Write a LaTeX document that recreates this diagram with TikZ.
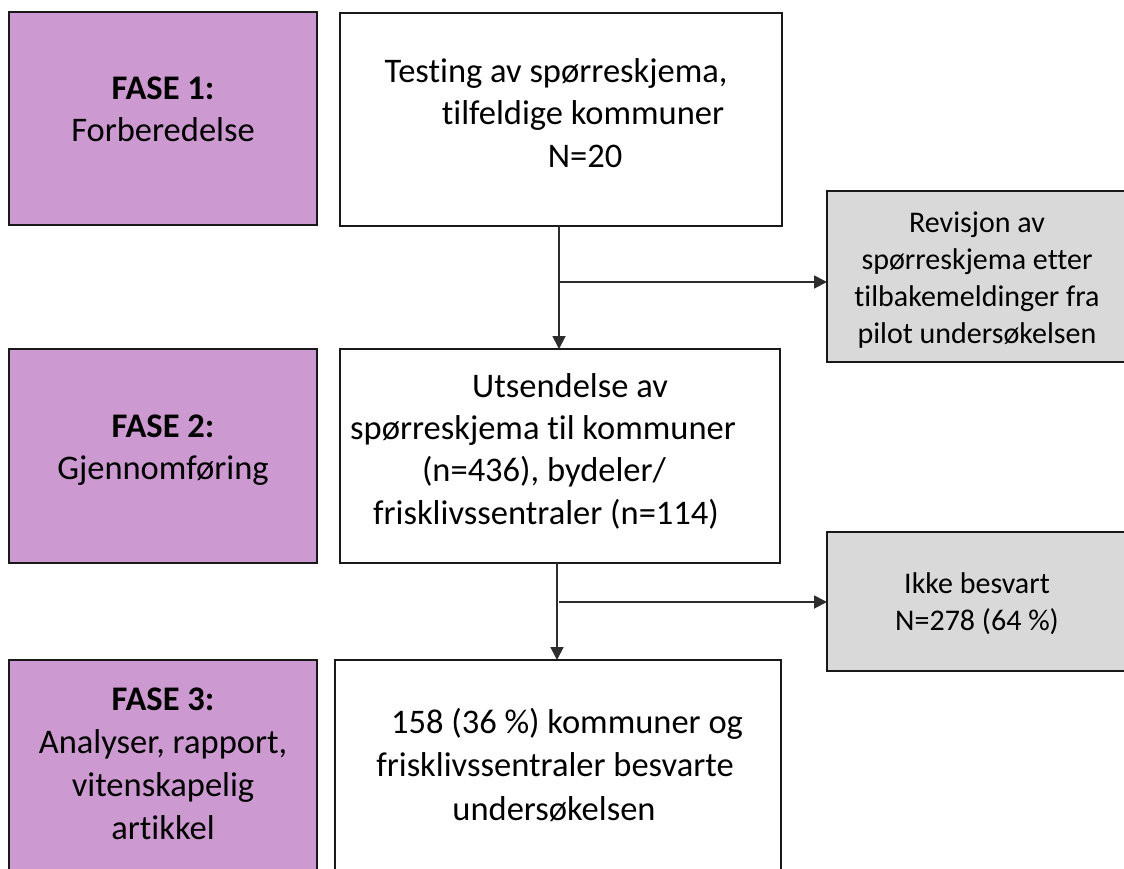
\documentclass[tikz,border=0pt]{standalone}
\usepackage{fontspec}
\setmainfont{Carlito}[Ligatures=CommonOff]
\usetikzlibrary{arrows.meta}
\definecolor{phase}{RGB}{204,153,208}
\definecolor{side}{RGB}{217,217,217}
\definecolor{lineC}{RGB}{45,45,45}
\begin{document}
\begin{tikzpicture}[x=1pt,y=-1pt,
  base/.style={draw=black!90, line width=2.4pt, rectangle, inner sep=0pt, outer sep=0pt, anchor=north west, align=center},
  phasebox/.style={base, fill=phase, font=\fontsize{34.5}{42}\selectfont},
  mainbox/.style={base, fill=white, font=\fontsize{34.5}{42.3}\selectfont},
  sidebox/.style={base, fill=side, font=\fontsize{30}{37}\selectfont},
  arr/.style={draw=lineC, line width=1.8pt, -{Triangle[length=13pt,width=13pt]}},
  lin/.style={draw=lineC, line width=1.8pt}]
\useasboundingbox (0,0) rectangle (1124,868);
% phase boxes
\node[phasebox, minimum width=308pt, minimum height=213pt] (f1) at (9,12) {\textbf{FASE 1:}\\Forberedelse\\[-24pt]\mbox{}};
\node[phasebox, minimum width=308pt, minimum height=214pt] (f2) at (9,349) {\textbf{FASE 2:}\\Gjennomføring\\[-24pt]\mbox{}};
\node[phasebox, minimum width=308pt, minimum height=240pt, font=\fontsize{34.5}{43}\selectfont] (f3) at (9,660) {\textbf{FASE 3:}\\Analyser, rapport,\\vitenskapelig\\artikkel\\[-10pt]\mbox{}};
% main boxes
\node[mainbox, minimum width=442pt, minimum height=213pt] (b1) at (340,13) {Testing av spørreskjema,\kern10pt\\\kern44pt tilfeldige kommuner\\\kern48pt N=20\\[-29pt]\mbox{}};
\node[mainbox, minimum width=440pt, minimum height=214pt] (b2) at (340,349) {\kern20pt Utsendelse av\\spørreskjema til kommuner\kern34pt\\(n=436), bydeler/\kern32pt\\frisklivssentraler (n=114)\kern28pt\\[-28pt]\mbox{}};
\node[mainbox, minimum width=446pt, minimum height=240pt, font=\fontsize{34.5}{43.5}\selectfont] (b3) at (335,660) {\kern18pt 158 (36 \%) kommuner og\\frisklivssentraler besvarte\kern6pt\\undersøkelsen\kern8pt\\[-12pt]\mbox{}};
% side boxes
\node[sidebox, minimum width=300pt, minimum height=171pt] (g1) at (827,191) {\rule{0pt}{28pt}Revisjon av\\spørreskjema etter\\tilbakemeldinger fra\\pilot undersøkelsen};
\node[sidebox, minimum width=300pt, minimum height=139pt] (g2) at (827,532) {\rule{0pt}{25pt}Ikke besvart\\N=278 (64 \%)};
% connectors
\coordinate (j1) at (559,282);
\coordinate (j2) at (557,602);
\coordinate (k2) at (559,602);
\draw[arr] (b1.south -| j1) -- (b2.north -| j1);
\draw[arr] (j1) -- (g1.west |- j1);
\draw[arr] (b2.south -| j2) -- (b3.north -| j2);
\draw[arr] (k2) -- (g2.west |- k2);
\end{tikzpicture}
\end{document}
